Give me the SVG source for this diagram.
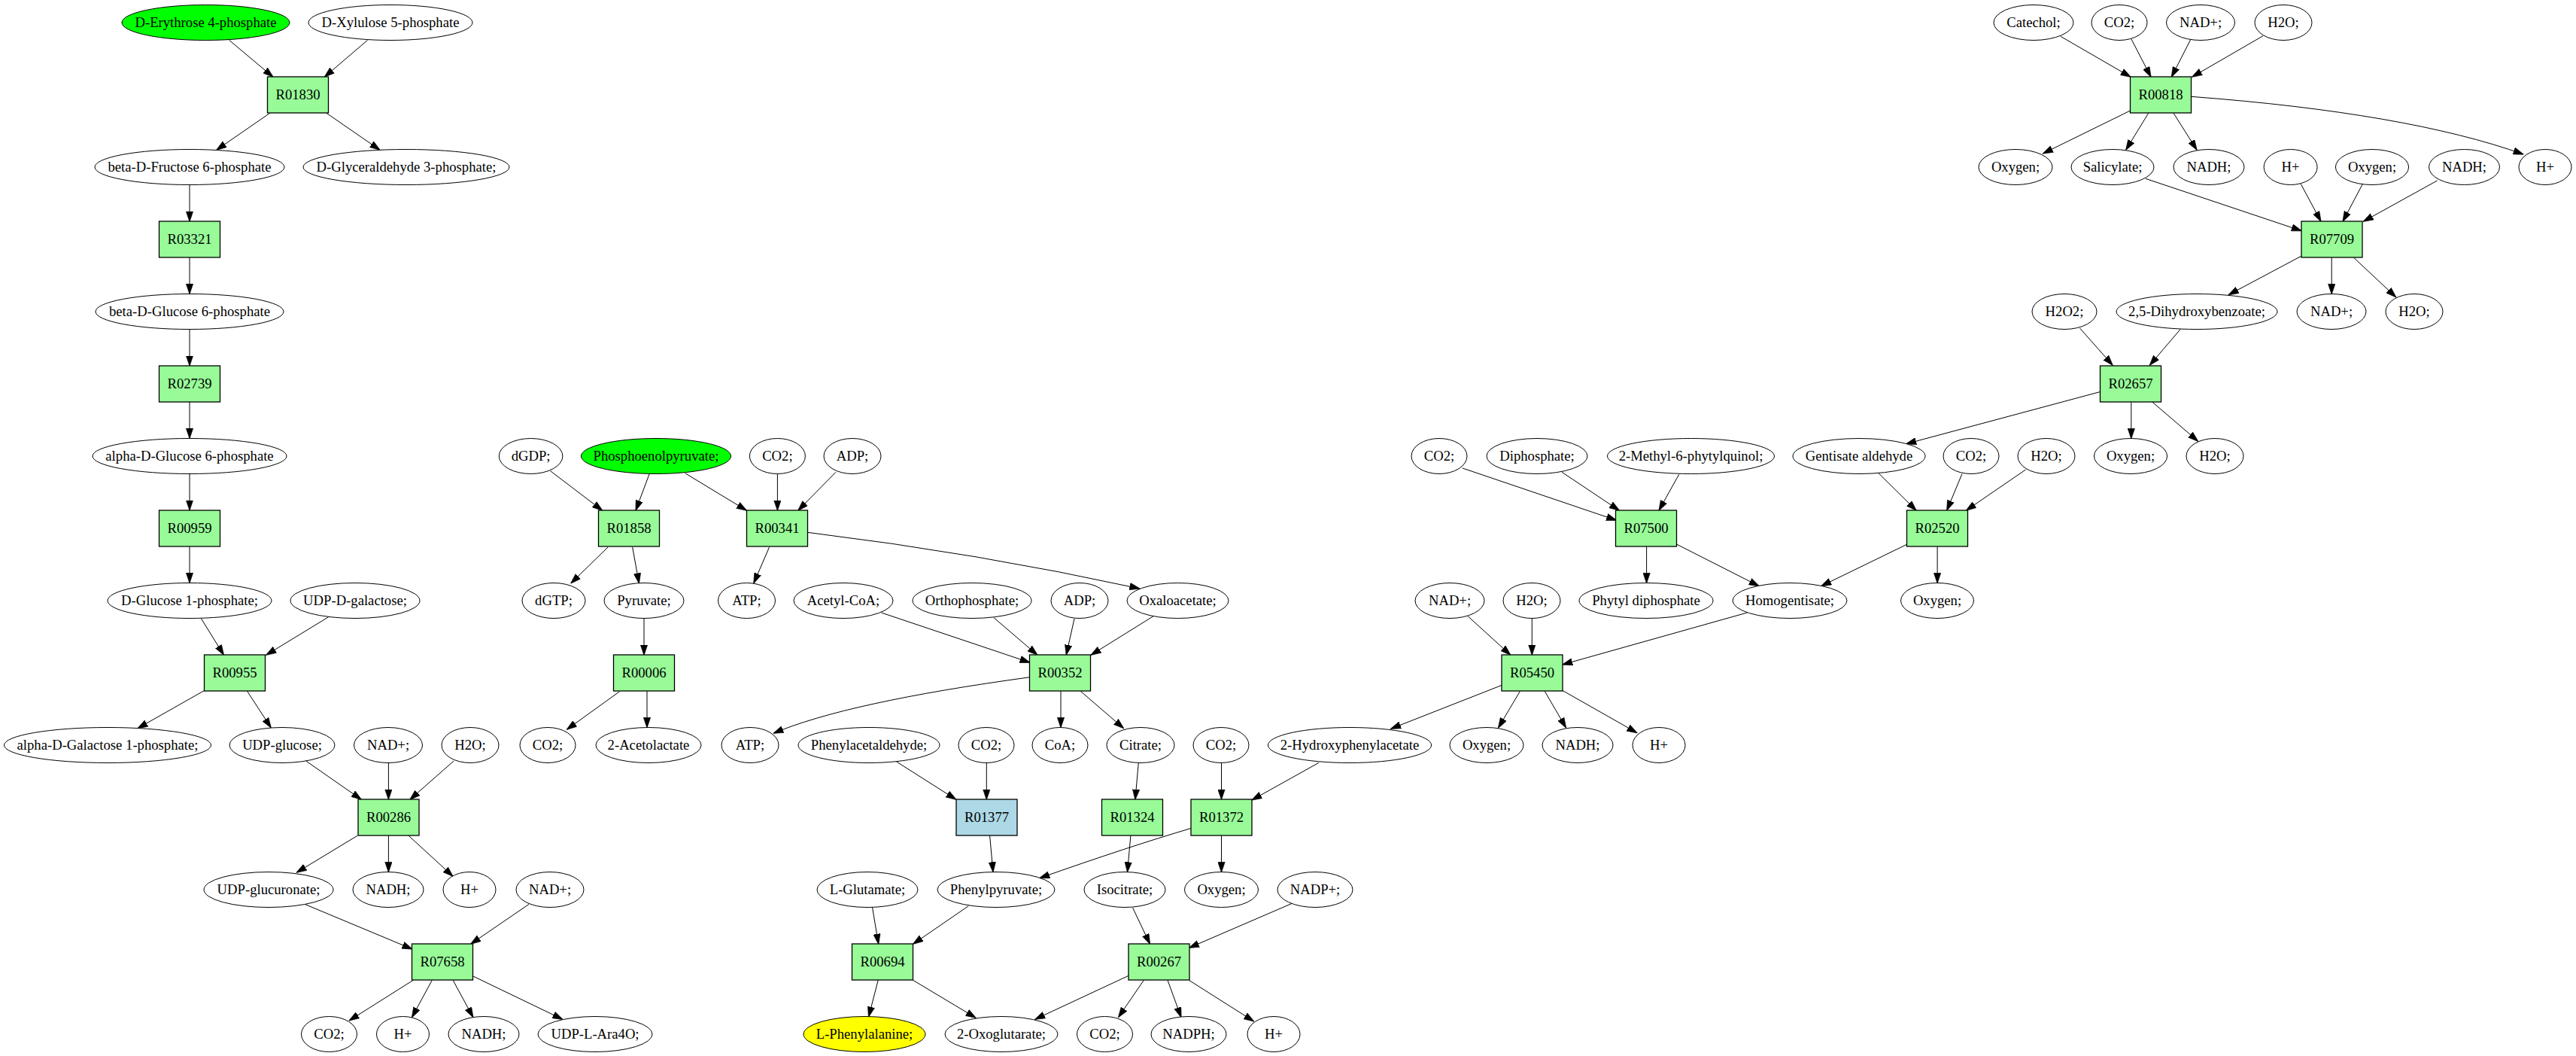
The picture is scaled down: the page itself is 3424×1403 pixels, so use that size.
<svg xmlns="http://www.w3.org/2000/svg" width="3424" height="1403" viewBox="0 0 3424 1403">
<style>
.bg{fill:#fff}
.m ellipse{fill:#fff;stroke:#000;stroke-width:1}
.r rect{fill:#98fb98;stroke:#000;stroke-width:1.3}
text{font-family:"Liberation Serif","Times New Roman",serif;font-size:18.67px;text-anchor:middle;fill:#000}
#edges path{fill:none;stroke:#000;stroke-width:1;marker-end:url(#arr)}
</style>
<defs>
<marker id="arr" markerUnits="userSpaceOnUse" viewBox="0 0 14 10" refX="13.5" refY="5" markerWidth="14" markerHeight="10" orient="auto">
<path d="M0,0.3 L14,5 L0,9.7 z" fill="#000" stroke="#000" stroke-width="0.6"/>
</marker>
</defs>
<rect class="bg" width="3424" height="1403"/>
<g id="edges">
<path d="M304.6,53.3 L363,102.3"/>
<path d="M488.6,53.3 L431.3,102.3"/>
<path d="M358.7,150.3 L287.7,199.3"/>
<path d="M434,150.3 L505,199.3"/>
<path d="M252,245.7 L252,294.3"/>
<path d="M252,342 L252,390.5"/>
<path d="M252,437.5 L252,486"/>
<path d="M252,534 L252,582.5"/>
<path d="M252,629.5 L252,678"/>
<path d="M252,726 L252,774.5"/>
<path d="M267.5,822 L297.5,870.3"/>
<path d="M436.7,819.7 L353.7,870.3"/>
<path d="M271.9,917.3 L182.9,967.7"/>
<path d="M328.6,918.3 L360.3,967"/>
<path d="M406.7,1011 L480.4,1062.3"/>
<path d="M516.4,1013.3 L516.4,1062.3"/>
<path d="M603.2,1011 L544.8,1062.3"/>
<path d="M475,1110.3 L394.1,1159.3"/>
<path d="M516.4,1110.3 L516.4,1158.7"/>
<path d="M543.2,1110.3 L602.1,1164.3"/>
<path d="M405,1201.3 L548.1,1261"/>
<path d="M703.1,1201.3 L625.6,1254.3"/>
<path d="M549.2,1302.3 L464,1356"/>
<path d="M574.3,1302.3 L547.5,1351.7"/>
<path d="M602.1,1302.3 L628.9,1351.7"/>
<path d="M628.9,1297 L747.9,1354.3"/>
<path d="M731.5,625.7 L800.8,678.3"/>
<path d="M863.1,629.7 L845,678.3"/>
<path d="M910.6,628.7 L992.5,678.3"/>
<path d="M1033.4,629.7 L1033.4,678.3"/>
<path d="M1111,627.3 L1060.7,678.3"/>
<path d="M808,727 L758.8,775"/>
<path d="M840.7,727 L849.4,775"/>
<path d="M856,821.5 L856,870.3"/>
<path d="M823.2,919 L753.3,969.3"/>
<path d="M860,918.3 L860,966.7"/>
<path d="M1022.5,727 L1001.8,775"/>
<path d="M1073.3,707.3 Q1300,735 1514.9,782"/>
<path d="M1171.5,814 L1369.1,880.3"/>
<path d="M1321,820.7 L1379,870.3"/>
<path d="M1428,822 L1417.2,870.3"/>
<path d="M1533,818.7 L1450,870.3"/>
<path d="M1369.1,899.7 Q1125,933 1028,974.3"/>
<path d="M1410,918.3 L1410,966.7"/>
<path d="M1436.3,918.3 L1493.6,967.7"/>
<path d="M1191.7,1012 L1270.9,1062.3"/>
<path d="M1311.3,1013.3 L1311.3,1062.3"/>
<path d="M1315.6,1110.3 L1320,1158.8"/>
<path d="M1513.3,1013.3 L1508.9,1062.3"/>
<path d="M1502.9,1110.3 L1498.5,1158.8"/>
<path d="M1623.5,1013.3 L1623.5,1062.3"/>
<path d="M1753,1013.3 L1663.9,1063"/>
<path d="M1583.7,1100.3 Q1500,1125 1381.7,1166.7"/>
<path d="M1623.5,1110.3 L1623.5,1158.8"/>
<path d="M1159.5,1205.3 L1167.7,1254.3"/>
<path d="M1287.3,1203.7 L1213.6,1254.3"/>
<path d="M1167.2,1302.3 L1154.6,1351"/>
<path d="M1213.6,1302.3 L1297.1,1352.3"/>
<path d="M1505.6,1206 L1528.5,1254.3"/>
<path d="M1718,1200 L1580.4,1259.3"/>
<path d="M1500.7,1296 L1375.7,1354.3"/>
<path d="M1520.3,1302.3 L1486.5,1351.7"/>
<path d="M1552,1302.3 L1570,1351.7"/>
<path d="M1580.4,1302.3 L1666.7,1357"/>
<path d="M2738.9,48.3 L2832.2,102.3"/>
<path d="M2832.8,51.7 L2859,102.3"/>
<path d="M2911.9,52.3 L2886.3,102.3"/>
<path d="M3008,47.7 L2913.6,102.3"/>
<path d="M2832.2,146.7 L2715.4,204"/>
<path d="M2855.7,150.3 L2825.7,199.3"/>
<path d="M2889,150.3 L2920.1,199.3"/>
<path d="M2912.5,128.3 Q3200,150 3354.1,205"/>
<path d="M2851.9,237.3 L3059.3,306.7"/>
<path d="M3058.2,244.3 L3085,294.3"/>
<path d="M3140.1,245 L3114,294.3"/>
<path d="M3239.5,240 L3141.2,294.3"/>
<path d="M3059.3,340 L2962.1,391.7"/>
<path d="M3099.2,342.3 L3099.2,390.7"/>
<path d="M3128.6,342.3 L3184.9,395"/>
<path d="M2764.5,436 L2808.2,485.3"/>
<path d="M2898.3,437.3 L2857.3,485.3"/>
<path d="M2792.4,520.3 L2533.6,589.7"/>
<path d="M2832.8,534.3 L2832.8,582.7"/>
<path d="M2861.1,534.3 L2921.7,586.3"/>
<path d="M2607.9,629.7 L2587.7,678.3"/>
<path d="M2692.5,624 L2613.3,678.3"/>
<path d="M2575.1,726.3 L2575.1,774.7"/>
<path d="M1944,622 L2148.7,691.3"/>
<path d="M2076.1,627.3 L2152.5,678.3"/>
<path d="M2231.7,630.3 L2205,678.3"/>
<path d="M2497,628.7 L2547.2,678.3"/>
<path d="M2188.6,726.3 L2188.6,774.7"/>
<path d="M2228.4,723 L2338.2,778.7"/>
<path d="M2535.2,723 L2420.6,778.7"/>
<path d="M1951.1,818.7 L2007.9,870.3"/>
<path d="M2036.3,822 L2036.3,870.3"/>
<path d="M2322.3,814 L2076.7,883"/>
<path d="M1996.4,910.3 L1848.5,968.3"/>
<path d="M2020.4,918.3 L1991.5,967.2"/>
<path d="M2053.2,918.3 L2081.6,967"/>
<path d="M2076.7,917.3 L2176,973.7"/>
</g>
<g class="m">
<g id="n_e4p"><ellipse cx="273.5" cy="30" rx="111.5" ry="23.5" style="fill:#00ff00"/><text x="273.5" y="36">D-Erythrose 4-phosphate</text></g>
<g id="n_x5p"><ellipse cx="519" cy="30" rx="109" ry="23.5"/><text x="519" y="36">D-Xylulose 5-phosphate</text></g>
<g id="n_catechol"><ellipse cx="2703" cy="30" rx="53" ry="23.5"/><text x="2703" y="36">Catechol;</text></g>
<g id="n_co2_a"><ellipse cx="2817" cy="30" rx="37" ry="23.5"/><text x="2817" y="36">CO2;</text></g>
<g id="n_nad_a"><ellipse cx="2925" cy="30" rx="45.5" ry="23.5"/><text x="2925" y="36">NAD+;</text></g>
<g id="n_h2o_a"><ellipse cx="3035" cy="30" rx="38" ry="23.5"/><text x="3035" y="36">H2O;</text></g>

<g id="n_f6p"><ellipse cx="252" cy="222" rx="126" ry="23.5"/><text x="252" y="228">beta-D-Fructose 6-phosphate</text></g>
<g id="n_g3p"><ellipse cx="540" cy="222" rx="137" ry="23.5"/><text x="540" y="228">D-Glyceraldehyde 3-phosphate;</text></g>
<g id="n_oxy_c1"><ellipse cx="2679" cy="222" rx="49" ry="23.5"/><text x="2679" y="228">Oxygen;</text></g>
<g id="n_salicylate"><ellipse cx="2808" cy="222" rx="55" ry="23.5"/><text x="2808" y="228">Salicylate;</text></g>
<g id="n_nadh_c1"><ellipse cx="2936" cy="222" rx="47" ry="23.5"/><text x="2936" y="228">NADH;</text></g>
<g id="n_h_c1"><ellipse cx="3044.6" cy="222" rx="35.5" ry="23.5"/><text x="3044.6" y="228">H+</text></g>
<g id="n_oxy_c2"><ellipse cx="3153" cy="222" rx="48.6" ry="23.5"/><text x="3153" y="228">Oxygen;</text></g>
<g id="n_nadh_c2"><ellipse cx="3275.5" cy="222" rx="47" ry="23.5"/><text x="3275.5" y="228">NADH;</text></g>
<g id="n_h_c2"><ellipse cx="3383" cy="222" rx="35" ry="23.5"/><text x="3383" y="228">H+</text></g>

<g id="n_bg6p"><ellipse cx="252" cy="414" rx="125" ry="23.5"/><text x="252" y="420">beta-D-Glucose 6-phosphate</text></g>
<g id="n_h2o2"><ellipse cx="2744" cy="414" rx="43" ry="23.5"/><text x="2744" y="420">H2O2;</text></g>
<g id="n_dhb"><ellipse cx="2920" cy="414" rx="107" ry="23.5"/><text x="2920" y="420">2,5-Dihydroxybenzoate;</text></g>
<g id="n_nad_e"><ellipse cx="3099" cy="414" rx="46" ry="23.5"/><text x="3099" y="420">NAD+;</text></g>
<g id="n_h2o_e"><ellipse cx="3209" cy="414" rx="38" ry="23.5"/><text x="3209" y="420">H2O;</text></g>

<g id="n_ag6p"><ellipse cx="252" cy="606" rx="129" ry="23.5"/><text x="252" y="612">alpha-D-Glucose 6-phosphate</text></g>
<g id="n_dgdp"><ellipse cx="705.6" cy="606" rx="42.3" ry="23.5"/><text x="705.6" y="612">dGDP;</text></g>
<g id="n_pep"><ellipse cx="872" cy="606" rx="99.6" ry="23.5" style="fill:#00ff00"/><text x="872" y="612">Phosphoenolpyruvate;</text></g>
<g id="n_co2_g1"><ellipse cx="1033.4" cy="606" rx="37" ry="23.5"/><text x="1033.4" y="612">CO2;</text></g>
<g id="n_adp_g"><ellipse cx="1133" cy="606" rx="38" ry="23.5"/><text x="1133" y="612">ADP;</text></g>
<g id="n_co2_g2"><ellipse cx="1913" cy="606" rx="37" ry="23.5"/><text x="1913" y="612">CO2;</text></g>
<g id="n_diphos"><ellipse cx="2043" cy="606" rx="67" ry="23.5"/><text x="2043" y="612">Diphosphate;</text></g>
<g id="n_mpq"><ellipse cx="2247.5" cy="606" rx="111" ry="23.5"/><text x="2247.5" y="612">2-Methyl-6-phytylquinol;</text></g>
<g id="n_gald"><ellipse cx="2471" cy="606" rx="88" ry="23.5"/><text x="2471" y="612">Gentisate aldehyde</text></g>
<g id="n_co2_g3"><ellipse cx="2620" cy="606" rx="37" ry="23.5"/><text x="2620" y="612">CO2;</text></g>
<g id="n_h2o_g1"><ellipse cx="2720" cy="606" rx="38" ry="23.5"/><text x="2720" y="612">H2O;</text></g>
<g id="n_oxy_g"><ellipse cx="2832" cy="606" rx="48.6" ry="23.5"/><text x="2832" y="612">Oxygen;</text></g>
<g id="n_h2o_g2"><ellipse cx="2944" cy="606" rx="38" ry="23.5"/><text x="2944" y="612">H2O;</text></g>

<g id="n_g1p"><ellipse cx="252" cy="798" rx="109" ry="23.5"/><text x="252" y="804">D-Glucose 1-phosphate;</text></g>
<g id="n_udpgal"><ellipse cx="472" cy="798" rx="86" ry="23.5"/><text x="472" y="804">UDP-D-galactose;</text></g>
<g id="n_dgtp"><ellipse cx="736" cy="798" rx="42" ry="23.5"/><text x="736" y="804">dGTP;</text></g>
<g id="n_pyr"><ellipse cx="856" cy="798" rx="53" ry="23.5"/><text x="856" y="804">Pyruvate;</text></g>
<g id="n_atp_i"><ellipse cx="992.5" cy="798" rx="38" ry="23.5"/><text x="992.5" y="804">ATP;</text></g>
<g id="n_accoa"><ellipse cx="1121" cy="798" rx="66" ry="23.5"/><text x="1121" y="804">Acetyl-CoA;</text></g>
<g id="n_ortho"><ellipse cx="1292" cy="798" rx="79" ry="23.5"/><text x="1292" y="804">Orthophosphate;</text></g>
<g id="n_adp_i"><ellipse cx="1435" cy="798" rx="38" ry="23.5"/><text x="1435" y="804">ADP;</text></g>
<g id="n_oaa"><ellipse cx="1565.5" cy="798" rx="67.5" ry="23.5"/><text x="1565.5" y="804">Oxaloacetate;</text></g>
<g id="n_nad_i"><ellipse cx="1927" cy="798" rx="46" ry="23.5"/><text x="1927" y="804">NAD+;</text></g>
<g id="n_h2o_i"><ellipse cx="2036" cy="798" rx="38" ry="23.5"/><text x="2036" y="804">H2O;</text></g>
<g id="n_phytyl"><ellipse cx="2188" cy="798" rx="89" ry="23.5"/><text x="2188" y="804">Phytyl diphosphate</text></g>
<g id="n_homog"><ellipse cx="2379" cy="798" rx="76" ry="23.5"/><text x="2379" y="804">Homogentisate;</text></g>
<g id="n_oxy_i"><ellipse cx="2575" cy="798" rx="48.5" ry="23.5"/><text x="2575" y="804">Oxygen;</text></g>

<g id="n_agal1p"><ellipse cx="143" cy="990" rx="137.5" ry="23.5"/><text x="143" y="996">alpha-D-Galactose 1-phosphate;</text></g>
<g id="n_udpglc"><ellipse cx="375" cy="990" rx="70" ry="23.5"/><text x="375" y="996">UDP-glucose;</text></g>
<g id="n_nad_k"><ellipse cx="516" cy="990" rx="45.5" ry="23.5"/><text x="516" y="996">NAD+;</text></g>
<g id="n_h2o_k"><ellipse cx="625" cy="990" rx="38" ry="23.5"/><text x="625" y="996">H2O;</text></g>
<g id="n_co2_k1"><ellipse cx="728" cy="990" rx="37" ry="23.5"/><text x="728" y="996">CO2;</text></g>
<g id="n_acetol"><ellipse cx="862" cy="990" rx="70" ry="23.5"/><text x="862" y="996">2-Acetolactate</text></g>
<g id="n_atp_k"><ellipse cx="997" cy="990" rx="38" ry="23.5"/><text x="997" y="996">ATP;</text></g>
<g id="n_phald"><ellipse cx="1155" cy="990" rx="94" ry="23.5"/><text x="1155" y="996">Phenylacetaldehyde;</text></g>
<g id="n_co2_k2"><ellipse cx="1311" cy="990" rx="37" ry="23.5"/><text x="1311" y="996">CO2;</text></g>
<g id="n_coa"><ellipse cx="1409" cy="990" rx="37" ry="23.5"/><text x="1409" y="996">CoA;</text></g>
<g id="n_citrate"><ellipse cx="1516" cy="990" rx="45" ry="23.5"/><text x="1516" y="996">Citrate;</text></g>
<g id="n_co2_k3"><ellipse cx="1623" cy="990" rx="37" ry="23.5"/><text x="1623" y="996">CO2;</text></g>
<g id="n_hpa"><ellipse cx="1794" cy="990" rx="108.6" ry="23.5"/><text x="1794" y="996">2-Hydroxyphenylacetate</text></g>
<g id="n_oxy_k"><ellipse cx="1976" cy="990" rx="49" ry="23.5"/><text x="1976" y="996">Oxygen;</text></g>
<g id="n_nadh_k"><ellipse cx="2097" cy="990" rx="47" ry="23.5"/><text x="2097" y="996">NADH;</text></g>
<g id="n_h_k"><ellipse cx="2205" cy="990" rx="35" ry="23.5"/><text x="2205" y="996">H+</text></g>

<g id="n_udpgla"><ellipse cx="357" cy="1182" rx="86" ry="23.5"/><text x="357" y="1188">UDP-glucuronate;</text></g>
<g id="n_nadh_m"><ellipse cx="516" cy="1182" rx="47" ry="23.5"/><text x="516" y="1188">NADH;</text></g>
<g id="n_h_m"><ellipse cx="624" cy="1182" rx="35" ry="23.5"/><text x="624" y="1188">H+</text></g>
<g id="n_nad_m"><ellipse cx="731" cy="1182" rx="45" ry="23.5"/><text x="731" y="1188">NAD+;</text></g>
<g id="n_glu"><ellipse cx="1153" cy="1182" rx="67" ry="23.5"/><text x="1153" y="1188">L-Glutamate;</text></g>
<g id="n_phpyr"><ellipse cx="1324" cy="1182" rx="78" ry="23.5"/><text x="1324" y="1188">Phenylpyruvate;</text></g>
<g id="n_isocit"><ellipse cx="1495" cy="1182" rx="54" ry="23.5"/><text x="1495" y="1188">Isocitrate;</text></g>
<g id="n_oxy_m"><ellipse cx="1623.5" cy="1182" rx="49" ry="23.5"/><text x="1623.5" y="1188">Oxygen;</text></g>
<g id="n_nadp"><ellipse cx="1748" cy="1182" rx="50" ry="23.5"/><text x="1748" y="1188">NADP+;</text></g>

<g id="n_co2_o1"><ellipse cx="437.5" cy="1374" rx="37" ry="23.5"/><text x="437.5" y="1380">CO2;</text></g>
<g id="n_h_o1"><ellipse cx="535.5" cy="1374" rx="35" ry="23.5"/><text x="535.5" y="1380">H+</text></g>
<g id="n_nadh_o"><ellipse cx="643" cy="1374" rx="47" ry="23.5"/><text x="643" y="1380">NADH;</text></g>
<g id="n_udpara"><ellipse cx="791" cy="1374" rx="76" ry="23.5"/><text x="791" y="1380">UDP-L-Ara4O;</text></g>
<g id="n_phe"><ellipse cx="1149" cy="1374" rx="81" ry="23.5" style="fill:#ffff00"/><text x="1149" y="1380">L-Phenylalanine;</text></g>
<g id="n_2og"><ellipse cx="1331" cy="1374" rx="75" ry="23.5"/><text x="1331" y="1380">2-Oxoglutarate;</text></g>
<g id="n_co2_o2"><ellipse cx="1468.5" cy="1374" rx="37" ry="23.5"/><text x="1468.5" y="1380">CO2;</text></g>
<g id="n_nadph"><ellipse cx="1580" cy="1374" rx="50" ry="23.5"/><text x="1580" y="1380">NADPH;</text></g>
<g id="n_h_o2"><ellipse cx="1693" cy="1374" rx="35" ry="23.5"/><text x="1693" y="1380">H+</text></g>
</g>
<g class="r">
<g id="R01830"><rect x="355.5" y="102" width="81" height="48"/><text x="396" y="132">R01830</text></g>
<g id="R00818"><rect x="2831.5" y="102" width="81" height="48"/><text x="2872" y="132">R00818</text></g>
<g id="R03321"><rect x="211.5" y="294" width="81" height="48"/><text x="252" y="324">R03321</text></g>
<g id="R07709"><rect x="3059" y="294" width="81" height="48"/><text x="3099.5" y="324">R07709</text></g>
<g id="R02739"><rect x="211.5" y="486" width="81" height="48"/><text x="252" y="516">R02739</text></g>
<g id="R02657"><rect x="2791.5" y="486" width="81" height="48"/><text x="2832" y="516">R02657</text></g>
<g id="R00959"><rect x="211.5" y="678" width="81" height="48"/><text x="252" y="708">R00959</text></g>
<g id="R01858"><rect x="795.5" y="678" width="81" height="48"/><text x="836" y="708">R01858</text></g>
<g id="R00341"><rect x="992.5" y="678" width="81" height="48"/><text x="1033" y="708">R00341</text></g>
<g id="R07500"><rect x="2147.5" y="678" width="81" height="48"/><text x="2188" y="708">R07500</text></g>
<g id="R02520"><rect x="2534.5" y="678" width="81" height="48"/><text x="2575" y="708">R02520</text></g>
<g id="R00955"><rect x="271.5" y="870" width="81" height="48"/><text x="312" y="900">R00955</text></g>
<g id="R00006"><rect x="815.5" y="870" width="81" height="48"/><text x="856" y="900">R00006</text></g>
<g id="R00352"><rect x="1368.5" y="870" width="81" height="48"/><text x="1409" y="900">R00352</text></g>
<g id="R05450"><rect x="1996" y="870" width="81" height="48"/><text x="2036.5" y="900">R05450</text></g>
<g id="R00286"><rect x="476" y="1062" width="81" height="48"/><text x="516.5" y="1092">R00286</text></g>
<g id="R01377"><rect x="1271" y="1062" width="81" height="48" style="fill:#add8e6"/><text x="1311.5" y="1092">R01377</text></g>
<g id="R01324"><rect x="1464.5" y="1062" width="81" height="48"/><text x="1505" y="1092">R01324</text></g>
<g id="R01372"><rect x="1583" y="1062" width="81" height="48"/><text x="1623.5" y="1092">R01372</text></g>
<g id="R07658"><rect x="547.5" y="1254" width="81" height="48"/><text x="588" y="1284">R07658</text></g>
<g id="R00694"><rect x="1132.5" y="1254" width="81" height="48"/><text x="1173" y="1284">R00694</text></g>
<g id="R00267"><rect x="1500" y="1254" width="81" height="48"/><text x="1540.5" y="1284">R00267</text></g>
</g>
</svg>
